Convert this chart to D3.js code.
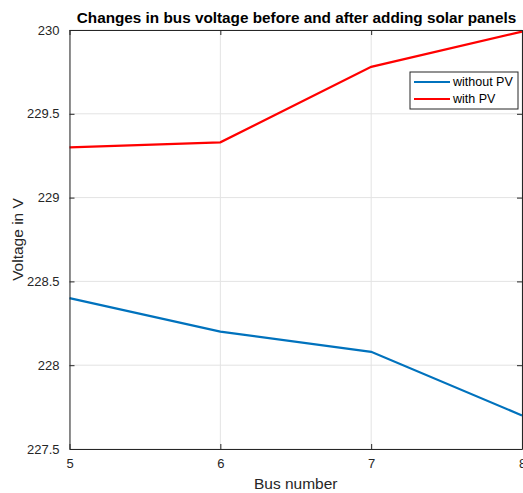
<!DOCTYPE html>
<html>
<head>
<meta charset="utf-8">
<script src="https://cdn.jsdelivr.net/npm/d3@7"></script>
<style>
  body { margin: 0; background: #fff; }
  svg { display: block; font-family: "Liberation Sans", Arial, sans-serif; }
</style>
</head>
<body>
<div id="chart"></div>
<script>
// data
var busNumbers = [5, 6, 7, 8];
var withoutPV = [228.40, 228.20, 228.08, 227.70];
var withPV = [229.30, 229.33, 229.78, 229.99];
var yTicks = [227.5, 228, 228.5, 229, 229.5, 230];
var seriesNames = ["without PV", "with PV"];
var seriesColors = ["#0072BD", "#FF0000"];

var W = 523, H = 493;
var margin = {top: 30, right: 1, bottom: 44, left: 69.5};
var width = W - margin.left - margin.right;
var height = H - margin.top - margin.bottom;

var svg = d3.select("#chart").append("svg")
    .attr("width", W)
    .attr("height", H);

var g = svg.append("g")
    .attr("transform", "translate(" + margin.left + "," + margin.top + ")");

var x = d3.scaleLinear().domain([5, 8]).range([0, width]);
var y = d3.scaleLinear().domain([227.5, 230]).range([height, 0]);

// grid
g.selectAll(".vgrid").data(busNumbers).enter().append("line")
    .attr("x1", d => x(d)).attr("x2", d => x(d))
    .attr("y1", 0).attr("y2", height)
    .attr("stroke", "#e3e3e3").attr("stroke-width", 1);
g.selectAll(".hgrid").data(yTicks).enter().append("line")
    .attr("x1", 0).attr("x2", width)
    .attr("y1", d => y(d)).attr("y2", d => y(d))
    .attr("stroke", "#e3e3e3").attr("stroke-width", 1);

// lines
var line = d3.line()
    .x(function(d, i) { return x(busNumbers[i]); })
    .y(function(d) { return y(d); });

[withoutPV, withPV].forEach(function(s, i) {
  g.append("path")
      .datum(s)
      .attr("d", line)
      .attr("fill", "none")
      .attr("stroke", seriesColors[i])
      .attr("stroke-width", 2.2);
});

// axes (ticks pointing inward, box on all sides)
var axisColor = "#262626";
function styleAxis(sel) {
  sel.select(".domain").attr("stroke", axisColor);
  sel.selectAll(".tick line").attr("stroke", axisColor);
  sel.selectAll(".tick text").attr("fill", axisColor)
     .style("font-size", "13px");
}

var fmt = d3.format("");
g.append("g")
    .attr("transform", "translate(0," + height + ")")
    .call(d3.axisBottom(x).tickValues(busNumbers).tickFormat(fmt)
          .tickSizeInner(-5).tickSizeOuter(0).tickPadding(10))
    .call(styleAxis);
g.append("g")
    .call(d3.axisLeft(y).tickValues(yTicks).tickFormat(fmt)
          .tickSizeInner(-5).tickSizeOuter(0).tickPadding(10))
    .call(styleAxis);
g.append("g")
    .call(d3.axisTop(x).tickValues(busNumbers).tickFormat("")
          .tickSizeInner(-5).tickSizeOuter(0))
    .call(styleAxis);
g.append("g")
    .attr("transform", "translate(" + width + ",0)")
    .call(d3.axisRight(y).tickValues(yTicks).tickFormat("")
          .tickSizeInner(-5).tickSizeOuter(0))
    .call(styleAxis);

// title and labels
svg.append("text")
    .attr("x", (77 + 516) / 2)
    .attr("y", 23)
    .attr("text-anchor", "middle")
    .style("font-size", "15.3px")
    .style("font-weight", "bold")
    .attr("fill", "#000")
    .text("Changes in bus voltage before and after adding solar panels");

svg.append("text")
    .attr("x", margin.left + width / 2)
    .attr("y", 489)
    .attr("text-anchor", "middle")
    .style("font-size", "15.5px")
    .attr("fill", axisColor)
    .text("Bus number");

svg.append("text")
    .attr("transform", "translate(23," + (margin.top + height / 2) + ") rotate(-90)")
    .attr("text-anchor", "middle")
    .style("font-size", "15.5px")
    .attr("fill", axisColor)
    .text("Voltage in V");

// legend
var legend = svg.append("g").attr("transform", "translate(410,72)");
legend.append("rect")
    .attr("width", 108).attr("height", 37)
    .attr("fill", "#fff")
    .attr("stroke", axisColor).attr("stroke-width", 1);
seriesNames.forEach(function(name, i) {
  var ly = 10 + i * 17;
  legend.append("line")
      .attr("x1", 4).attr("x2", 40)
      .attr("y1", ly).attr("y2", ly)
      .attr("stroke", seriesColors[i]).attr("stroke-width", 2.2);
  legend.append("text")
      .attr("x", 43).attr("y", ly + 4)
      .style("font-size", "12.5px")
      .attr("fill", "#000")
      .text(name);
});
</script>
</body>
</html>
